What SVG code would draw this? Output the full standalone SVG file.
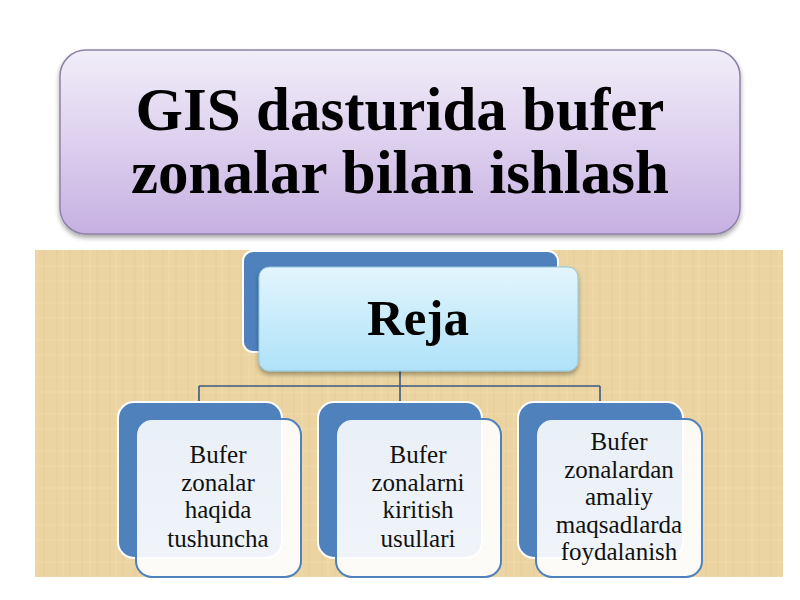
<svg xmlns="http://www.w3.org/2000/svg" width="800" height="600" viewBox="0 0 800 600">
<defs>
<linearGradient id="gTitle" x1="0" y1="0" x2="0" y2="1">
<stop offset="0" stop-color="#f1edf8"/>
<stop offset="0.5" stop-color="#ddd0ee"/>
<stop offset="1" stop-color="#c6b0e2"/>
</linearGradient>
<linearGradient id="gReja" x1="0" y1="0" x2="0" y2="1">
<stop offset="0" stop-color="#e3f5fd"/>
<stop offset="1" stop-color="#aee2f9"/>
</linearGradient>
<linearGradient id="gChild" x1="0" y1="0" x2="0" y2="1">
<stop offset="0" stop-color="#ffffff" stop-opacity="0.88"/>
<stop offset="1" stop-color="#ffffff" stop-opacity="0.92"/>
</linearGradient>
<pattern id="paper" width="53" height="37" patternUnits="userSpaceOnUse">
<rect width="53" height="37" fill="#ebd4a1"/>
<path d="M4 0V37M17 0V37M29 0V37M44 0V37" stroke="#e0c590" stroke-width="1" opacity="0.45"/>
<path d="M0 7H53M0 22H53" stroke="#f2e0b8" stroke-width="1.2" opacity="0.45"/>
<path d="M10 0V37M37 0V37" stroke="#f2e1ba" stroke-width="1" opacity="0.4"/>
</pattern>
<filter id="sh" x="-10%" y="-10%" width="120%" height="130%">
<feGaussianBlur in="SourceAlpha" stdDeviation="2.5"/>
<feOffset dx="0" dy="3"/>
<feComponentTransfer><feFuncA type="linear" slope="0.35"/></feComponentTransfer>
<feMerge><feMergeNode/><feMergeNode in="SourceGraphic"/></feMerge>
</filter>
</defs>
<style>
.back{fill:#4f81bd;stroke:#ffffff;stroke-width:2}
.front{fill:url(#gChild);stroke:#4f81bd;stroke-width:2}
.ct{font-family:"Liberation Serif","Times New Roman",serif;font-size:25px;fill:#111;text-anchor:middle}
.conn{stroke:#3c5a80;stroke-width:1.6;fill:none}
</style>
<rect width="800" height="600" fill="#ffffff"/>
<rect x="35" y="250" width="748" height="327" fill="url(#paper)"/>

<g id="title">
<rect x="60" y="50" width="680" height="184" rx="26" fill="url(#gTitle)" stroke="#8f82a8" stroke-width="1.5" filter="url(#sh)"/>
<text x="400" y="130" text-anchor="middle" font-family="'Liberation Serif','Times New Roman',serif" font-weight="bold" font-size="61" fill="#000">GIS dasturida bufer</text>
<text x="400" y="193" text-anchor="middle" font-family="'Liberation Serif','Times New Roman',serif" font-weight="bold" font-size="61" fill="#000">zonalar bilan ishlash</text>
</g>

<g id="connectors">
<path class="conn" d="M400 371V386M199 386H600M199 386V403M400 386V403M600 386V403"/>
</g>

<g id="reja">
<rect class="back" x="243" y="251" width="315" height="101" rx="10"/>
<rect x="259" y="267" width="319" height="104" rx="10" fill="url(#gReja)" stroke="#8fc6de" stroke-width="1" filter="url(#sh)"/>
<text x="418" y="335" text-anchor="middle" font-family="'Liberation Serif','Times New Roman',serif" font-weight="bold" font-size="51" fill="#000">Reja</text>
</g>

<g id="child1">
<rect class="back" x="118" y="402" width="164" height="156" rx="16"/>
<rect class="front" x="136" y="419" width="165" height="158" rx="16"/>
<text class="ct" x="218" y="463">Bufer</text>
<text class="ct" x="218" y="491">zonalar</text>
<text class="ct" x="218" y="518">haqida</text>
<text class="ct" x="218" y="547">tushuncha</text>
</g>

<g id="child2">
<rect class="back" x="318" y="402" width="164" height="156" rx="16"/>
<rect class="front" x="336" y="419" width="165" height="158" rx="16"/>
<text class="ct" x="418" y="463">Bufer</text>
<text class="ct" x="418" y="491">zonalarni</text>
<text class="ct" x="418" y="518">kiritish</text>
<text class="ct" x="418" y="547">usullari</text>
</g>

<g id="child3">
<rect class="back" x="518" y="402" width="165" height="156" rx="16"/>
<rect class="front" x="536" y="419" width="166" height="158" rx="16"/>
<text class="ct" x="619" y="450">Bufer</text>
<text class="ct" x="619" y="478">zonalardan</text>
<text class="ct" x="619" y="505">amaliy</text>
<text class="ct" x="619" y="533">maqsadlarda</text>
<text class="ct" x="619" y="560">foydalanish</text>
</g>
</svg>
